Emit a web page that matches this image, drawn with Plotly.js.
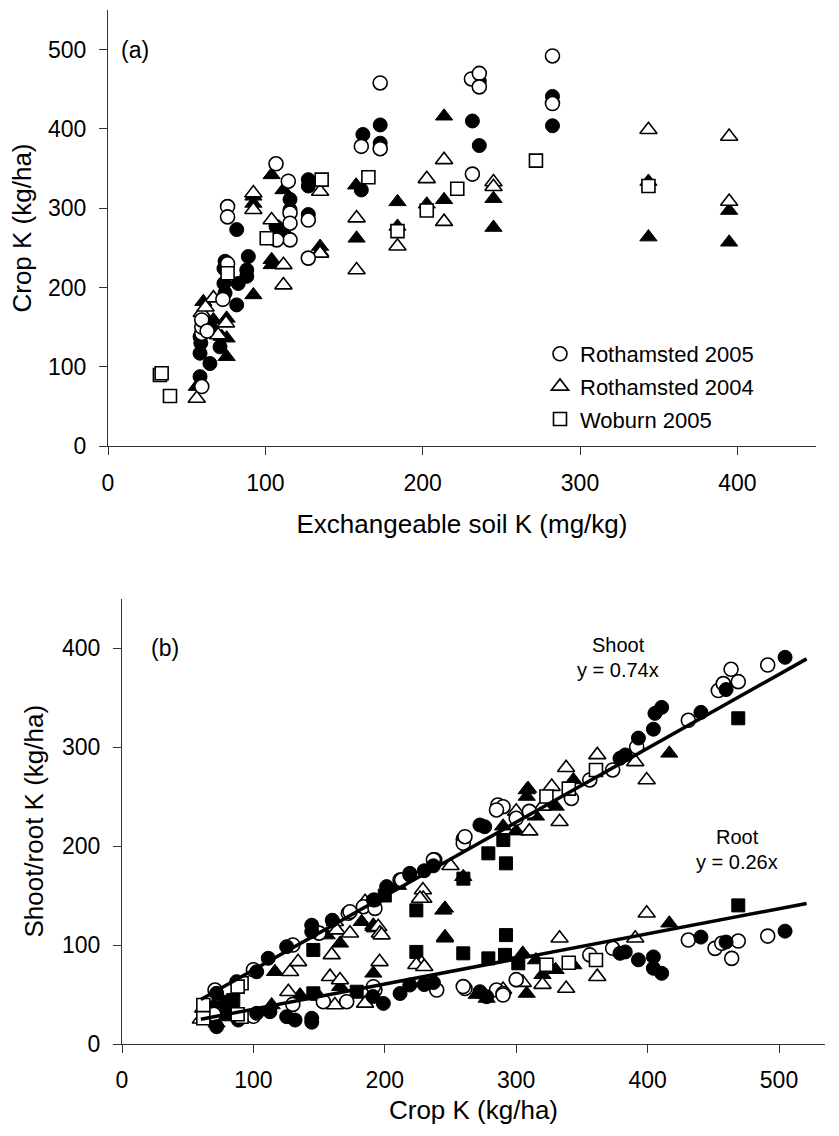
<!DOCTYPE html>
<html>
<head>
<meta charset="utf-8">
<script src="https://cdn.plot.ly/plotly-3.0.1.min.js"></script>
<style>html,body{margin:0;padding:0;background:#fff;}#chart{width:839px;height:1136px;}</style>
</head>
<body>
<div id="chart"></div>
<script>
// ---------- Panel (a): Crop K vs exchangeable soil K ----------
var aR05OpenX = [59.6, 59.6, 59.6, 59.6, 63, 76, 76, 76, 73, 106.8, 114.6, 115.7, 115.7, 115.7, 107.2, 127.3, 127.3, 161, 173, 173, 231, 236, 236, 231.6, 282.5, 282.5];
var aR05OpenY = [75, 142, 150, 159, 145, 302, 289, 230, 185, 356, 334, 294, 281, 260, 260, 237, 285, 378, 458, 375, 463, 470, 453, 343, 492, 432];
var aR05FillX = [58.5, 58.5, 58.5, 64.8, 71.2, 59, 65, 74.4, 81.8, 89.2, 88.2, 81.8, 74.4, 73.7, 82.8, 88.2, 73.7, 106.8, 115.7, 115.7, 127.3, 127.3, 127.3, 162, 173, 173, 161, 231.6, 236, 236, 282.5, 282.5];
var aR05FillY = [138, 117, 87.5, 104, 125, 130, 150, 233, 273, 239, 222, 178, 193, 205, 205, 214, 224, 277, 311, 298, 336, 328, 292, 393, 405, 382, 323, 410, 379, 460, 441, 404];
var aR04OpenX = [56.4, 59.6, 67, 62, 75, 70, 92.4, 92.4, 104, 111.5, 111.5, 134.8, 134.8, 158, 158, 184, 202.6, 213.6, 213.6, 245, 245, 343.5, 394.8, 394.8];
var aR04OpenY = [60, 168, 186.5, 175, 155, 140, 319, 298, 285, 228.5, 203, 321, 243, 287.5, 222, 252, 337, 361, 283, 333, 327, 399, 390.5, 308.5];
var aR04FillX = [56.4, 60.6, 67, 75.4, 75.4, 75.4, 72.3, 92.4, 92.4, 92.4, 104, 104, 111.5, 111.5, 111, 104, 134.8, 134.8, 157.7, 158, 184, 184, 202.6, 213.6, 213.6, 245, 245, 343.5, 343.5, 394.8, 394.8];
var aR04FillY = [75, 182, 159, 112.7, 161, 136, 138, 190.6, 315, 306, 235, 342, 323, 272.7, 266, 228.5, 251.6, 245, 329, 262, 308, 277, 305, 416, 310.6, 312, 275.6, 333.7, 263.5, 297, 257];
var aWobX = [33, 34.1, 39.4, 76, 100.9, 135.8, 165.5, 184, 202.6, 222, 272, 343.5];
var aWobY = [89.6, 91.8, 63, 218, 262, 336, 339, 271, 297, 324.5, 360, 328];

// ---------- Panel (b): Shoot / root K vs crop K ----------
var bOpenCircX = [70.8, 172.2, 173.5, 183.7, 192.5, 211.6, 212.8, 238, 237, 259.7, 259.7, 261, 286, 290, 285, 342, 356, 373.4, 391.7, 431, 453.8, 457.6, 469, 463.5, 491.4, 300, 310, 150, 130, 100,
                  192.5, 239.5, 261, 259.7, 285, 290, 290, 153.2, 171, 191.3, 356, 373.4, 431, 451.3, 456.4, 464, 469, 491.4, 300, 70, 130, 100];
var bOpenCircY = [54.5, 132, 133.6, 138.7, 137, 165.6, 165.6, 186, 186, 206.8, 202.7, 209.4, 241.4, 239.7, 236.4, 248, 266.7, 276.8, 300, 327, 357, 364, 366, 378.5, 382.8, 228, 235, 112, 100, 75,
                  54.5, 54.5, 56, 58, 54.5, 51, 49.5, 42.7, 42.7, 57.9, 90, 96.7, 105, 96.6, 101.7, 86.5, 104, 109, 65, 30, 40, 28];
var bFillCircX = [72, 87.3, 102.5, 111.3, 125.3, 144.4, 144.4, 191.3, 192.5, 201.4, 219, 219, 272.4, 276, 379, 383, 393, 404.4, 405.6, 410.7, 440.6, 459.7, 504.6, 237, 230, 160,
                  72, 88.5, 102.5, 112.6, 125.3, 131.7, 144.4, 144.4, 198.9, 211.6, 219, 272.4, 277.5, 379, 383, 393, 404.4, 404.4, 410.7, 440.6, 459.7, 504.6, 230, 237, 191];
var bFillCircY = [51.2, 63, 73, 86.6, 98.3, 120, 113.4, 145.5, 145.5, 159, 172.4, 170.7, 221.2, 219.5, 288.6, 292, 309, 318, 334, 340, 335, 358, 390.6, 180, 175, 125,
                  17.5, 24.2, 31, 32.6, 27.6, 24.2, 26, 22, 41, 51, 59.6, 52.8, 47.8, 91.6, 93, 85, 88, 76.5, 71.4, 108, 103, 114, 60, 62, 48];
var bOpenTriX = [61.9, 61.9, 127.9, 134, 159.6, 162, 163.4, 173.5, 185, 195, 196.3, 197.6, 229, 229.3, 226.8, 333, 327, 338, 361.7, 390.6, 399.3, 300, 310, 250, 320,
                 126.6, 158.3, 165.9, 162, 185, 196, 228, 224, 230, 333, 338, 361.7, 390.6, 399.3, 290, 305, 320, 60];
var bOpenTriY = [36, 26, 73, 83, 90, 123.5, 115, 111.8, 143.7, 118.5, 111.8, 110, 155.5, 147, 147, 224.5, 260, 279, 292, 285, 266.7, 235, 215, 180, 240,
                 52.8, 68, 64.6, 39.4, 41, 83, 81.5, 80, 78, 106.8, 56, 68, 106.8, 132, 55, 62, 60, 25];
var bFillTriX = [70, 116.4, 155.8, 166, 182.4, 191.3, 191.3, 192.5, 244.5, 245.8, 259.7, 308, 309, 308, 323, 343.5, 416.5, 290, 300, 315, 330, 210,
                 72, 113.9, 135.5, 166, 191.3, 245.8, 245.8, 277.5, 308, 290, 305, 315, 343.5, 416.5, 320, 330, 270, 150];
var bFillTriY = [40, 73, 110, 101.7, 123.5, 118.5, 120, 117, 135, 137, 169, 256.6, 258, 250, 243, 266.7, 293.6, 220, 215, 230, 240, 160,
                 21, 39.4, 49.5, 57.9, 71.4, 108.4, 106.8, 46, 51, 54.5, 91.6, 84.8, 79.8, 122, 70, 75, 50, 48];
var bOpenSqX = [61.9, 91, 88, 323, 360.7, 340, 61.9, 91, 88, 360.7, 323, 340];
var bOpenSqY = [39.4, 61.3, 58, 250, 276.8, 258, 26, 27.6, 30, 84.8, 80, 82];
var bFillSqX = [78.4, 84.7, 145.6, 224, 259.8, 278.8, 290.2, 292.2, 469, 200,
                145.6, 178.6, 224, 259.7, 278.8, 292.2, 291.5, 301.6, 469, 80];
var bFillSqY = [42.7, 44.4, 95, 135, 167, 192.6, 206, 182.5, 329, 150,
                51.2, 52.8, 93, 91.6, 86.5, 110, 90, 81.5, 140, 30];

// regression lines (end points)
var shootLineX = [60, 521];
var shootLineY = [45, 389];
var rootLineX = [60, 521];
var rootLineY = [25, 142];

var tickA_X = [0, 100, 200, 300, 400];
var tickA_Y = [0, 100, 200, 300, 400, 500];
var tickB_X = [0, 100, 200, 300, 400, 500];
var tickB_Y = [0, 100, 200, 300, 400];

var FONT = '"Liberation Sans", Arial, Helvetica, sans-serif';

function openM(sym, size) { return {symbol: sym, size: size, color: '#ffffff', line: {color: '#000000', width: 1.6}}; }
function fillM(sym, size) { return {symbol: sym, size: size, color: '#000000', line: {color: '#000000', width: 1}}; }

function pts(x, y, marker, ax, extra) {
  var t = {type: 'scatter', mode: 'markers', x: x, y: y, marker: marker,
           xaxis: ax[0], yaxis: ax[1], showlegend: false, hoverinfo: 'x+y'};
  if (extra) for (var k in extra) t[k] = extra[k];
  return t;
}

var A = ['x', 'y'], B = ['x2', 'y2'];
var traces = [
  pts(aR04FillX, aR04FillY, fillM('triangle-up', 15), A),
  pts(aR05FillX, aR05FillY, fillM('circle', 14), A),
  pts(aR04OpenX, aR04OpenY, openM('triangle-up', 15), A, {name: 'Rothamsted 2004', showlegend: true, legendrank: 2, legendgroup: 'g2'}),
  pts(aR05OpenX, aR05OpenY, openM('circle', 14), A, {name: 'Rothamsted 2005', showlegend: true, legendrank: 1, legendgroup: 'g1'}),
  pts(aWobX, aWobY, openM('square', 13), A, {name: 'Woburn 2005', showlegend: true, legendrank: 3, legendgroup: 'g3'}),

  pts(bFillSqX, bFillSqY, fillM('square', 13), B),
  pts(bFillTriX, bFillTriY, fillM('triangle-up', 15), B),
  pts(bOpenTriX, bOpenTriY, openM('triangle-up', 15), B),
  pts(bOpenCircX, bOpenCircY, openM('circle', 14), B),
  pts(bFillCircX, bFillCircY, fillM('circle', 14), B),
  pts(bOpenSqX, bOpenSqY, openM('square', 13), B),
  {type: 'scatter', mode: 'lines', x: shootLineX, y: shootLineY, xaxis: 'x2', yaxis: 'y2', line: {color: '#000', width: 3.5}, showlegend: false, hoverinfo: 'skip'},
  {type: 'scatter', mode: 'lines', x: rootLineX, y: rootLineY, xaxis: 'x2', yaxis: 'y2', line: {color: '#000', width: 3.5}, showlegend: false, hoverinfo: 'skip'}
];

var W = 839, H = 1136;
var TICK = 23, TITLE = 26;
function axisBase(extra) {
  var o = {showline: true, linecolor: '#333', linewidth: 1, ticks: 'outside', ticklen: 8, tickwidth: 1, tickcolor: '#333',
           showgrid: false, zeroline: false, tickfont: {family: FONT, size: TICK, color: '#000'}, fixedrange: true, automargin: false};
  for (var k in extra) o[k] = extra[k];
  return o;
}

var layout = {
  width: W, height: H,
  margin: {l: 0, r: 0, t: 0, b: 0},
  paper_bgcolor: '#fff', plot_bgcolor: 'rgba(0,0,0,0)',
  font: {family: FONT, size: 22, color: '#000'},
  xaxis: axisBase({domain: [108 / W, 816 / W], range: [0, 450], tickmode: 'array', tickvals: tickA_X, anchor: 'y', ticklabelstandoff: 8,
                   title: {text: 'Exchangeable soil K (mg/kg)', font: {family: FONT, size: TITLE, color: '#000'}, standoff: 20}}),
  yaxis: axisBase({domain: [1 - 446 / H, 1 - 10 / H], range: [0, 550], tickmode: 'array', tickvals: tickA_Y, anchor: 'x', ticklabelstandoff: 8,
                   title: {text: 'Crop K (kg/ha)', font: {family: FONT, size: TITLE, color: '#000'}, standoff: 8}}),
  xaxis2: axisBase({domain: [122 / W, 825 / W], range: [0, 535], tickmode: 'array', tickvals: tickB_X, anchor: 'y2', ticklabelstandoff: 7,
                   title: {text: 'Crop K (kg/ha)', font: {family: FONT, size: TITLE, color: '#000'}, standoff: 9}}),
  yaxis2: axisBase({domain: [1 - 1044 / H, 1 - 598.5 / H], range: [0, 450], tickmode: 'array', tickvals: tickB_Y, anchor: 'x2', ticklabelstandoff: 8,
                   title: {text: 'Shoot/root K (kg/ha)', font: {family: FONT, size: TITLE, color: '#000'}, standoff: 10}}),
  showlegend: true,
  legend: {x: 540 / W, xanchor: 'left', y: 1 - 333 / H, yanchor: 'top', bgcolor: 'rgba(0,0,0,0)', borderwidth: 0,
           font: {family: FONT, size: 22, color: '#000'}, traceorder: 'grouped', tracegroupgap: 1},
  annotations: [
    {xref: 'paper', yref: 'paper', x: 135 / W, y: 1 - 50 / H, text: '(a)', showarrow: false, xanchor: 'center', yanchor: 'middle', font: {family: FONT, size: 23}},
    {xref: 'paper', yref: 'paper', x: 165 / W, y: 1 - 648 / H, text: '(b)', showarrow: false, xanchor: 'center', yanchor: 'middle', font: {family: FONT, size: 23}},
    {xref: 'paper', yref: 'paper', x: 618 / W, y: 1 - 645 / H, text: 'Shoot', showarrow: false, xanchor: 'center', yanchor: 'middle', font: {family: FONT, size: 20}},
    {xref: 'paper', yref: 'paper', x: 618 / W, y: 1 - 670 / H, text: 'y = 0.74x', showarrow: false, xanchor: 'center', yanchor: 'middle', font: {family: FONT, size: 20}},
    {xref: 'paper', yref: 'paper', x: 737 / W, y: 1 - 837 / H, text: 'Root', showarrow: false, xanchor: 'center', yanchor: 'middle', font: {family: FONT, size: 20}},
    {xref: 'paper', yref: 'paper', x: 737 / W, y: 1 - 862 / H, text: 'y = 0.26x', showarrow: false, xanchor: 'center', yanchor: 'middle', font: {family: FONT, size: 20}}
  ]
};

Plotly.newPlot('chart', traces, layout, {staticPlot: true, displayModeBar: false});
</script>
</body>
</html>
